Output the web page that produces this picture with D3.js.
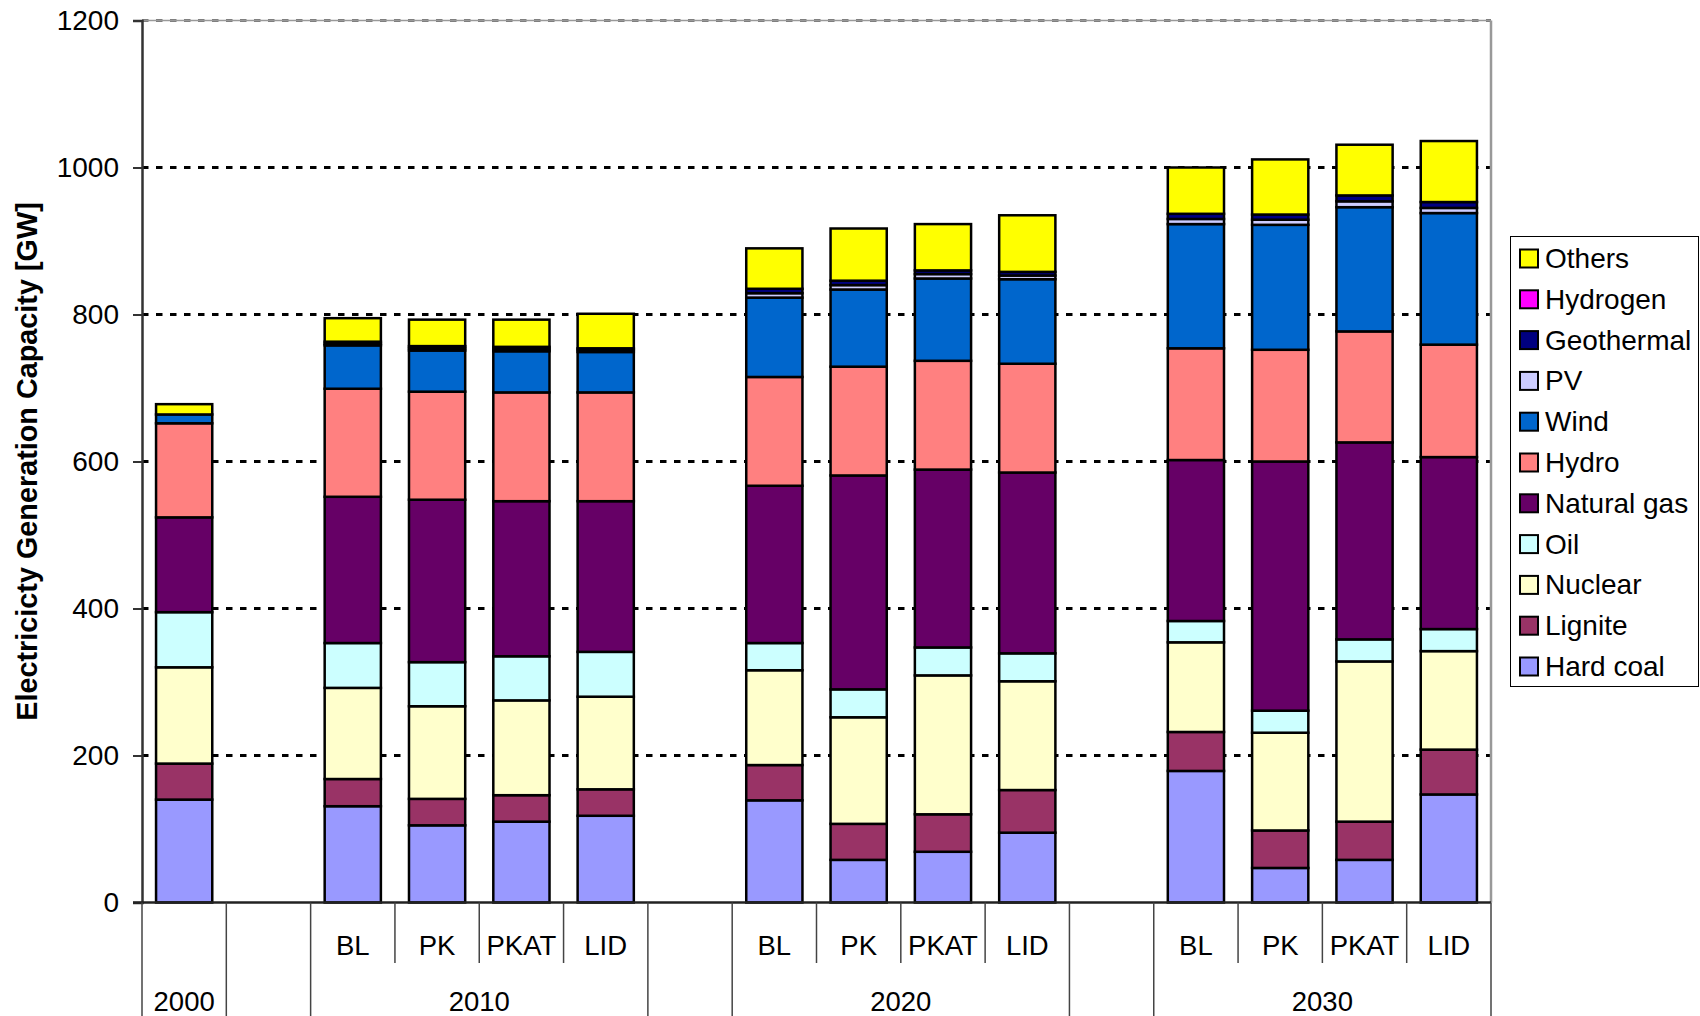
<!DOCTYPE html>
<html>
<head>
<meta charset="utf-8">
<script src="https://cdnjs.cloudflare.com/ajax/libs/d3/7.8.5/d3.min.js"></script>
<style>
  html, body { margin: 0; padding: 0; background: #fff; }
  svg { display: block; font-family: "Liberation Sans", Arial, sans-serif; }
</style>
</head>
<body>
<svg id="chart" width="1700" height="1016"></svg>
<script>
// ---- Data ----
const seriesNames = ["Hard coal","Lignite","Nuclear","Oil","Natural gas","Hydro","Wind","PV","Geothermal","Hydrogen","Others"];
const seriesColors = ["#9999FF","#993366","#FFFFCC","#CCFFFF","#660066","#FF8080","#0066CC","#CCCCFF","#000080","#FF00FF","#FFFF00"];

// 16 category slots: year level + scenario level (empty strings = spacer slots)
const yearLabels     = ["2000","","2010","2010","2010","2010","","2020","2020","2020","2020","","2030","2030","2030","2030"];
const scenarioLabels = ["","","BL","PK","PKAT","LID","","BL","PK","PKAT","LID","","BL","PK","PKAT","LID"];
const yTicks = [0,200,400,600,800,1000,1200];

const hardCoal   = [140,0,131,105,110,118,0,139, 58, 69, 95,0,179, 47, 58,147];
const lignite    = [ 49,0, 37, 36, 36, 36,0, 48, 49, 51, 58,0, 53, 51, 52, 61];
const nuclear    = [131,0,124,126,129,126,0,129,145,189,148,0,122,133,218,134];
const oil        = [ 75,0, 61, 60, 60, 61,0, 37, 38, 38, 38,0, 29, 30, 30, 30];
const naturalGas = [129,0,199,221,211,205,0,214,291,242,246,0,219,339,268,234];
const hydro      = [128,0,147,147,148,148,0,148,148,148,148,0,152,152,151,153];
const wind       = [ 12,0, 59, 56, 56, 55,0,108,105,112,115,0,169,170,169,179];
const pv         = [  0,0,  2,  3,  3,  3,0,  6,  6,  6,  5,0,  7,  7,  8,  7];
const geothermal = [  0,0,  3,  3,  3,  2,0,  6,  6,  5,  5,0,  7,  7,  8,  8];
const hydrogen   = [  0,0,  0,  0,  0,  0,0,  0,  0,  0,  0,0,  0,  0,  0,  0];
const others     = [ 14,0, 32, 36, 37, 47,0, 55, 71, 63, 77,0, 63, 75, 69, 83];

const seriesValues = [hardCoal, lignite, nuclear, oil, naturalGas, hydro, wind, pv, geothermal, hydrogen, others];

// ---- Build table ----
const table = yearLabels.map((yl, i) => {
  const row = { idx: i };
  seriesNames.forEach((s, k) => { row[s] = seriesValues[k][i]; });
  return row;
});

const svg = d3.select("#chart");
const plotLeft = 142, plotRight = 1491, plotTop = 20.5, plotBottom = 902.5;

const x = d3.scaleBand()
  .domain(d3.range(yearLabels.length))
  .range([plotLeft, plotRight])
  .paddingInner(1/3)
  .paddingOuter(1/6);
const step = x.step();

const y = d3.scaleLinear().domain([0, 1200]).range([plotBottom, plotTop]);

// gridlines
svg.append("g").selectAll("line")
  .data(yTicks.filter(t => t > 0))
  .join("line")
  .attr("x1", plotLeft).attr("x2", plotRight)
  .attr("y1", d => y(d)).attr("y2", d => y(d))
  .attr("stroke", d => d === 1200 ? "#777" : "#000")
  .attr("stroke-width", 3.2)
  .attr("stroke-dasharray", "6.5,7.5");

// plot area top/right border
svg.append("line").attr("x1", plotLeft).attr("x2", plotRight).attr("y1", plotTop).attr("y2", plotTop)
  .attr("stroke", "#999").attr("stroke-width", 1.5);
svg.append("line").attr("x1", plotRight).attr("x2", plotRight).attr("y1", plotTop).attr("y2", plotBottom)
  .attr("stroke", "#999").attr("stroke-width", 2.5);

// stacked bars
const stack = d3.stack().keys(seriesNames);
const stacked = stack(table);

svg.append("g").selectAll("g")
  .data(stacked)
  .join("g")
  .attr("fill", (d, i) => seriesColors[i])
  .selectAll("rect")
  .data(d => d.filter(p => p[1] - p[0] > 0))
  .join("rect")
  .attr("x", p => x(p.data.idx))
  .attr("width", x.bandwidth())
  .attr("y", p => y(p[1]))
  .attr("height", p => y(p[0]) - y(p[1]))
  .attr("stroke", "#000")
  .attr("stroke-width", 2.5);

// y axis
const yAxis = d3.axisLeft(y).tickValues(yTicks).tickFormat(d3.format("d")).tickSize(9).tickPadding(14);
const yg = svg.append("g").attr("transform", `translate(${plotLeft},0)`).call(yAxis);
yg.select(".domain").attr("stroke", "#333").attr("stroke-width", 2.5);
yg.selectAll(".tick line").attr("stroke", "#333").attr("stroke-width", 2);
yg.selectAll(".tick text")
  .attr("font-size", 28)
  .attr("font-family", "'Liberation Sans', Arial, sans-serif")
  .attr("fill", "#000");

// x axis baseline
svg.append("line").attr("x1", plotLeft - 9).attr("x2", plotRight).attr("y1", plotBottom).attr("y2", plotBottom)
  .attr("stroke", "#222").attr("stroke-width", 2.5);

// category separators
const boundaries = d3.range(yearLabels.length + 1);
const isGroupBoundary = i => {
  if (i === 0 || i === yearLabels.length) return true;
  return yearLabels[i] !== yearLabels[i - 1] || yearLabels[i] === "";
};
svg.append("g").selectAll("line")
  .data(boundaries)
  .join("line")
  .attr("x1", i => plotLeft + i * step).attr("x2", i => plotLeft + i * step)
  .attr("y1", plotBottom)
  .attr("y2", i => isGroupBoundary(i) ? 1016 : 963)
  .attr("stroke", "#444").attr("stroke-width", 1.5);

// scenario labels
svg.append("g").selectAll("text")
  .data(scenarioLabels.map((s, i) => ({ s, i })).filter(d => d.s !== ""))
  .join("text")
  .attr("x", d => x(d.i) + x.bandwidth() / 2)
  .attr("y", 945)
  .attr("text-anchor", "middle")
  .attr("dominant-baseline", "central")
  .attr("font-size", 27.5)
  .text(d => d.s);

// year labels (group spans)
const groups = [];
yearLabels.forEach((yl, i) => {
  if (yl === "") return;
  const g = groups.find(g => g.label === yl);
  if (g) g.end = i; else groups.push({ label: yl, start: i, end: i });
});
svg.append("g").selectAll("text")
  .data(groups)
  .join("text")
  .attr("x", g => plotLeft + (g.start + g.end + 1) / 2 * step)
  .attr("y", 1001)
  .attr("text-anchor", "middle")
  .attr("dominant-baseline", "central")
  .attr("font-size", 27.5)
  .text(g => g.label);

// y axis title
svg.append("text")
  .attr("transform", `translate(37,${(plotTop + plotBottom) / 2}) rotate(-90)`)
  .attr("text-anchor", "middle")
  .attr("font-size", 28.8)
  .attr("font-weight", "bold")
  .text("Electricicty Generation Capacity [GW]");

// legend
const lg = svg.append("g");
lg.append("rect").attr("x", 1510.5).attr("y", 236.5).attr("width", 188).attr("height", 450)
  .attr("fill", "#fff").attr("stroke", "#000").attr("stroke-width", 1);
const legendOrder = seriesNames.map((s, i) => ({ s, c: seriesColors[i] })).reverse();
const items = lg.selectAll("g.item").data(legendOrder).join("g")
  .attr("class", "item")
  .attr("transform", (d, i) => `translate(0,${258.5 + i * 40.8})`);
items.append("rect").attr("x", 1520).attr("y", -9).attr("width", 18).attr("height", 18)
  .attr("fill", d => d.c).attr("stroke", "#000").attr("stroke-width", 2);
items.append("text").attr("x", 1545).attr("y", 0)
  .attr("dominant-baseline", "central")
  .attr("font-size", 28)
  .text(d => d.s);
</script>
</body>
</html>
